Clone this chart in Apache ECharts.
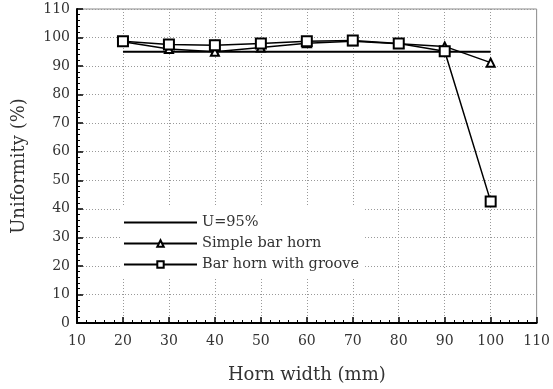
<!DOCTYPE html>
<html>
<head>
<meta charset="utf-8">
<script src="https://cdn.jsdelivr.net/npm/echarts@6/dist/echarts.min.js"></script>
<style>
  html, body { margin: 0; padding: 0; background: #fff; }
  #chart { width: 553px; height: 389px; }
</style>
</head>
<body>
<div id="chart"></div>
<script>
// Horn width (mm) at which uniformity was measured
const widths = [20, 30, 40, 50, 60, 70, 80, 90, 100];
// Uniformity (%) for each horn design
const reference95 = [95, 95, 95, 95, 95, 95, 95, 95, 95];
const simpleBarHorn = [98.5, 96.0, 95.0, 96.5, 98.0, 98.7, 97.8, 96.9, 91.2];
const grooveBarHorn = [98.7, 97.6, 97.3, 97.9, 98.7, 99.0, 97.9, 95.2, 42.6];
const seriesNames = ['U=95%', 'Simple bar horn', 'Bar horn with groove'];

const FONT = 'DejaVu Serif';
const pairs = arr => widths.map((w, i) => [w, arr[i]]);

const chart = echarts.init(document.getElementById('chart'), null, { renderer: 'canvas' });
chart.setOption({
  animation: false,
  backgroundColor: '#fff',
  grid: {
    left: 77, right: 14, top: 9, bottom: 64,
    show: true, borderColor: '#8a8a8a', borderWidth: 1
  },
  legend: {
    orient: 'vertical',
    left: 122, top: 207,
    padding: [8, 6, 7, 1],
    itemGap: 6,
    itemWidth: 73, itemHeight: 8,
    backgroundColor: '#fff',
    lineStyle: { width: 2 },
    data: [
      // the reference line carries no marker
      { name: seriesNames[0], itemStyle: { opacity: 0 } },
      seriesNames[1],
      seriesNames[2]
    ],
    textStyle: { fontFamily: FONT, fontSize: 14.5, color: '#333', lineHeight: 14 }
  },
  xAxis: {
    type: 'value', min: 10, max: 110, interval: 10,
    name: 'Horn width (mm)', nameLocation: 'middle', nameGap: 43,
    nameTextStyle: { fontFamily: FONT, fontSize: 18, color: '#333' },
    axisLine: { onZero: false, lineStyle: { color: '#000', width: 2 } },
    axisTick: { inside: true, length: 6, lineStyle: { color: '#000', width: 1.5 } },
    minorTick: { show: true, splitNumber: 5, length: 3, lineStyle: { color: '#000', width: 1 } },
    axisLabel: { fontFamily: FONT, fontSize: 14, color: '#333', margin: 11 },
    splitLine: { show: true, lineStyle: { color: '#999', type: [1, 2], width: 1 } }
  },
  yAxis: {
    type: 'value', min: 0, max: 110, interval: 10,
    name: 'Uniformity (%)', nameLocation: 'middle', nameGap: 49,
    nameTextStyle: { fontFamily: FONT, fontSize: 18, color: '#333' },
    axisLine: { show: true, onZero: false, lineStyle: { color: '#000', width: 2 } },
    axisTick: { show: true, inside: true, length: 6, lineStyle: { color: '#000', width: 1.5 } },
    minorTick: { show: true, splitNumber: 5, length: 3, lineStyle: { color: '#000', width: 1 } },
    axisLabel: { fontFamily: FONT, fontSize: 14, color: '#333', margin: 7 },
    splitLine: { show: true, lineStyle: { color: '#999', type: [1, 2], width: 1 } }
  },
  series: [
    {
      name: seriesNames[0], type: 'line', data: pairs(reference95),
      symbol: 'none', lineStyle: { color: '#000', width: 2 },
      itemStyle: { color: '#000' }, z: 2
    },
    {
      name: seriesNames[1], type: 'line', data: pairs(simpleBarHorn),
      symbol: 'emptyTriangle', symbolSize: 8,
      lineStyle: { color: '#000', width: 1.5 },
      itemStyle: { color: '#000', borderWidth: 1.5 }, z: 3
    },
    {
      name: seriesNames[2], type: 'line', data: pairs(grooveBarHorn),
      symbol: 'emptyRect', symbolSize: 10,
      lineStyle: { color: '#000', width: 1.5 },
      itemStyle: { color: '#000', borderWidth: 1.5 }, z: 4
    }
  ]
});
</script>
</body>
</html>
